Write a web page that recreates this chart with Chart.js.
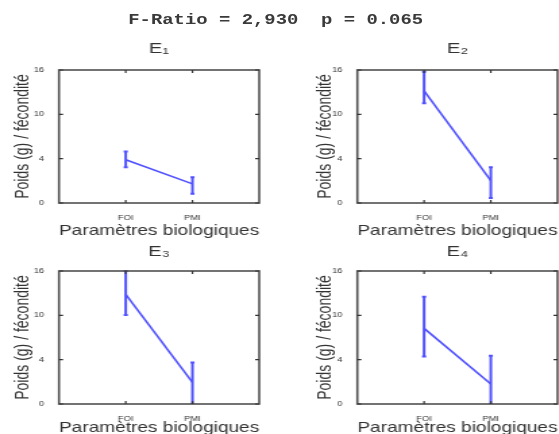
<!DOCTYPE html>
<html>
<head>
<meta charset="utf-8">
<script src="https://cdn.jsdelivr.net/npm/chart.js@4.4.1/dist/chart.umd.min.js"></script>
<style>
  body { margin: 0; background: #fff; overflow: hidden; }
  #stage { position: relative; width: 414px; height: 434px; transform: scaleX(1.35); transform-origin: 0 0; }
  #stage canvas { position: absolute; }
  #mainTitle { position: absolute; left: 95px; top: 12px; font: bold 14px 'Liberation Mono', 'Courier New', monospace; color: #3a3a3a; white-space: pre; }
</style>
</head>
<body>
<div id="stage">
  <div id="mainTitle">F-Ratio = 2,930  p = 0.065</div>
  <canvas id="c1"></canvas>
  <canvas id="c2"></canvas>
  <canvas id="c3"></canvas>
  <canvas id="c4"></canvas>
</div>
<script>
// Données
const categories = ['FOI', 'PMI'];
const yTickLabels = ['0', '4', '10', '16'];
const panelNames = ['E₁', 'E₂', 'E₃', 'E₄'];

const meanE1 = [5.2, 2.3];
const lowE1 = [4.3, 1.1];
const highE1 = [6.2, 3.1];

const meanE2 = [13.5, 2.7];
const lowE2 = [12.0, 0.6];
const highE2 = [15.8, 4.3];

const meanE3 = [13.2, 2.6];
const lowE3 = [10.7, 0];
const highE3 = [16, 5.0];

const meanE4 = [9.1, 2.4];
const lowE4 = [5.7, 0];
const highE4 = [12.9, 5.8];

const BLUE = 'rgb(80, 80, 255)';
const TEXT = '#333';
const FONT = "'Liberation Sans', Arial, sans-serif";

// Mise en page des quatre panneaux
const panels = [
  { id: 'c1', name: panelNames[0], mean: meanE1, low: lowE1, high: highE1, left: 0, top: 36, height: 204, titlePad: { top: 4, bottom: 12 }, xAxisH: 37, yTitlePad: 9 },
  { id: 'c2', name: panelNames[1], mean: meanE2, low: lowE2, high: highE2, left: 220.7, top: 36, height: 204, titlePad: { top: 4, bottom: 12 }, xAxisH: 37, yTitlePad: 12 },
  { id: 'c3', name: panelNames[2], mean: meanE3, low: lowE3, high: highE3, left: 0, top: 240, height: 197, titlePad: { top: 3, bottom: 10 }, xAxisH: 33, yTitlePad: 9 },
  { id: 'c4', name: panelNames[3], mean: meanE4, low: lowE4, high: highE4, left: 220.7, top: 240, height: 197, titlePad: { top: 3, bottom: 10 }, xAxisH: 33, yTitlePad: 12 }
];

// Barres d'erreur verticales
const errorBars = {
  id: 'errorBars',
  afterDatasetsDraw(chart) {
    const { ctx, chartArea, scales: { x, y } } = chart;
    ctx.save();
    ctx.beginPath();
    ctx.rect(chartArea.left, chartArea.top - 1, chartArea.width, chartArea.height + 1);
    ctx.clip();
    chart.data.datasets.forEach(ds => {
      if (!ds.errLow) return;
      ds.data.forEach((p, i) => {
        const px = x.getPixelForValue(p.x);
        const y1 = y.getPixelForValue(ds.errLow[i]);
        const y2 = y.getPixelForValue(ds.errHigh[i]);
        ctx.strokeStyle = ds.borderColor;
        ctx.lineWidth = 2;
        ctx.beginPath();
        ctx.moveTo(px, y1);
        ctx.lineTo(px, y2);
        ctx.moveTo(px - 1.5, y1);
        ctx.lineTo(px + 1.5, y1);
        ctx.moveTo(px - 1.5, y2);
        ctx.lineTo(px + 1.5, y2);
        ctx.stroke();
      });
    });
    ctx.restore();
  }
};

// Cadre façon MATLAB avec graduations intérieures
const boxFrame = {
  id: 'boxFrame',
  afterDraw(chart) {
    const { ctx, chartArea: a, scales: { x, y } } = chart;
    ctx.save();
    ctx.strokeStyle = '#505050';
    ctx.lineWidth = 1.6;
    ctx.strokeRect(a.left, a.top, a.width, a.height);
    ctx.lineWidth = 1.2;
    ctx.strokeStyle = '#333';
    ctx.beginPath();
    y.ticks.forEach(t => {
      const py = y.getPixelForValue(t.value);
      ctx.moveTo(a.left, py); ctx.lineTo(a.left + 3, py);
      ctx.moveTo(a.right, py); ctx.lineTo(a.right - 3, py);
    });
    x.ticks.forEach(t => {
      const px = x.getPixelForValue(t.value);
      ctx.moveTo(px, a.bottom); ctx.lineTo(px, a.bottom - 3);
      ctx.moveTo(px, a.top); ctx.lineTo(px, a.top + 3);
    });
    ctx.stroke();
    ctx.restore();
  }
};

function createPanel(p) {
  const canvas = document.getElementById(p.id);
  canvas.width = 194;
  canvas.height = p.height;
  canvas.style.left = p.left + 'px';
  canvas.style.top = p.top + 'px';

  new Chart(canvas.getContext('2d'), {
    type: 'line',
    data: {
      datasets: [{
        data: categories.map((c, i) => ({ x: i + 1, y: p.mean[i] })),
        errLow: p.low,
        errHigh: p.high,
        borderColor: BLUE,
        borderWidth: 1.6,
        pointRadius: 0,
        fill: false,
        tension: 0
      }]
    },
    options: {
      responsive: false,
      animation: false,
      layout: { padding: { left: 0, right: 2, top: 0, bottom: 0 } },
      plugins: {
        legend: { display: false },
        tooltip: { enabled: false },
        title: {
          display: true,
          fullSize: false,
          text: p.name,
          color: TEXT,
          font: { family: FONT, size: 15, weight: 'normal' },
          padding: p.titlePad
        }
      },
      scales: {
        x: {
          type: 'linear',
          min: 0,
          max: 3,
          afterBuildTicks: s => { s.ticks = categories.map((c, i) => ({ value: i + 1 })); },
          afterFit: s => { s.height = p.xAxisH; },
          ticks: {
            callback: (v, i) => categories[i],
            color: TEXT,
            font: { family: FONT, size: 7 },
            padding: 3,
            maxRotation: 0
          },
          grid: { display: false },
          border: { display: false },
          title: {
            display: true,
            text: 'Paramètres biologiques',
            color: TEXT,
            font: { family: FONT, size: 15 },
            padding: 0
          }
        },
        y: {
          type: 'linear',
          min: 0,
          max: 16,
          afterBuildTicks: s => {
            const n = yTickLabels.length - 1;
            s.ticks = yTickLabels.map((l, i) => ({ value: 16 * i / n }));
          },
          afterFit: s => { s.width = 43.7; },
          ticks: {
            callback: (v, i) => yTickLabels[i],
            color: TEXT,
            font: { family: FONT, size: 7 },
            padding: 3
          },
          grid: { display: false },
          border: { display: false },
          title: {
            display: true,
            text: 'Poids (g) / fécondité',
            color: TEXT,
            font: { family: FONT, size: 14 },
            padding: { top: p.yTitlePad, bottom: 0 }
          }
        }
      }
    },
    plugins: [errorBars, boxFrame]
  });
}

document.addEventListener('DOMContentLoaded', function() {
  panels.forEach(createPanel);
});
</script>
</body>
</html>
